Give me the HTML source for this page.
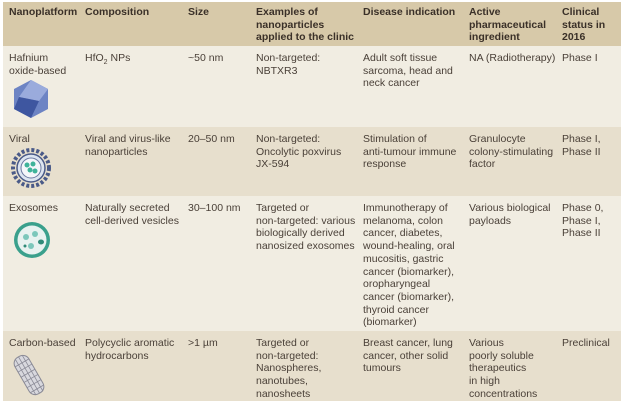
<!DOCTYPE html>
<html><head><meta charset="utf-8"><style>
body{margin:0;width:623px;height:401px;background:#fff;position:relative;overflow:hidden;font-family:"Liberation Sans",sans-serif;font-size:10.5px;color:#4a4038;}
.r{position:absolute;left:3px;width:618px;}
.t{position:absolute;line-height:12.7px;white-space:nowrap;}
.h{font-weight:bold;color:#3a3028;}
</style></head><body>
<div class="r" style="top:2px;height:44px;background:#d7c9a9"></div>
<div class="r" style="top:46px;height:81px;background:#f1ede2"></div>
<div class="r" style="top:127px;height:69px;background:#e7dfcd"></div>
<div class="r" style="top:196px;height:135px;background:#f1ede2"></div>
<div class="r" style="top:331px;height:70px;background:#e7dfcd"></div>

<div class="t h" style="left:9px;top:6px">Nanoplatform</div>
<div class="t h" style="left:85px;top:6px">Composition</div>
<div class="t h" style="left:188px;top:6px">Size</div>
<div class="t h" style="left:256px;top:6px">Examples of<br>nanoparticles<br>applied to the clinic</div>
<div class="t h" style="left:363px;top:6px">Disease indication</div>
<div class="t h" style="left:469px;top:6px">Active<br>pharmaceutical<br>ingredient</div>
<div class="t h" style="left:562px;top:6px">Clinical<br>status in<br>2016</div>

<div class="t" style="left:9px;top:52px">Hafnium<br>oxide-based</div>
<div class="t" style="left:85px;top:52px">HfO<sub style="font-size:7px">2</sub> NPs</div>
<div class="t" style="left:188px;top:52px">~50 nm</div>
<div class="t" style="left:256px;top:52px">Non-targeted:<br>NBTXR3</div>
<div class="t" style="left:363px;top:52px">Adult soft tissue<br>sarcoma, head and<br>neck cancer</div>
<div class="t" style="left:469px;top:52px">NA (Radiotherapy)</div>
<div class="t" style="left:562px;top:52px">Phase I</div>
<svg style="position:absolute;left:11px;top:79px" width="40" height="40" viewBox="0 0 40 40"><polygon points="20,1 37,10 37,30 20,39 3,30 3,10" fill="#6d84c4"/><polygon points="20,1 37,10 28,22 8,18" fill="#9aabdc"/><polygon points="3,30 20,39 28,22 8,18" fill="#3e56a0"/></svg>

<div class="t" style="left:9px;top:133px">Viral</div>
<div class="t" style="left:85px;top:133px">Viral and virus-like<br>nanoparticles</div>
<div class="t" style="left:188px;top:133px">20–50 nm</div>
<div class="t" style="left:256px;top:133px">Non-targeted:<br>Oncolytic poxvirus<br>JX-594</div>
<div class="t" style="left:363px;top:133px">Stimulation of<br>anti-tumour immune<br>response</div>
<div class="t" style="left:469px;top:133px">Granulocyte<br>colony-stimulating<br>factor</div>
<div class="t" style="left:562px;top:133px">Phase I,<br>Phase II</div>
<svg style="position:absolute;left:10px;top:147px" width="42" height="42" viewBox="0 0 42 42"><circle cx="21" cy="21" r="18" fill="none" stroke="#4a5a88" stroke-width="4" stroke-dasharray="3 2"/><circle cx="21" cy="21" r="14" fill="#dce4f0" stroke="#4a5a88" stroke-width="1.5"/><circle cx="21" cy="21" r="10" fill="#f4f6fa" stroke="#6a78a0"/><circle cx="17" cy="18" r="2.5" fill="#3fb39a"/><circle cx="23" cy="17" r="2.5" fill="#3fb39a"/><circle cx="20" cy="23" r="2.5" fill="#3fb39a"/><circle cx="25" cy="24" r="2.5" fill="#3fb39a"/></svg>

<div class="t" style="left:9px;top:202px">Exosomes</div>
<div class="t" style="left:85px;top:202px">Naturally secreted<br>cell-derived vesicles</div>
<div class="t" style="left:188px;top:202px">30–100 nm</div>
<div class="t" style="left:256px;top:202px">Targeted or<br>non-targeted: various<br>biologically derived<br>nanosized exosomes</div>
<div class="t" style="left:363px;top:202px">Immunotherapy of<br>melanoma, colon<br>cancer, diabetes,<br>wound-healing, oral<br>mucositis, gastric<br>cancer (biomarker),<br>oropharyngeal<br>cancer (biomarker),<br>thyroid cancer<br>(biomarker)</div>
<div class="t" style="left:469px;top:202px">Various biological<br>payloads</div>
<div class="t" style="left:562px;top:202px">Phase 0,<br>Phase I,<br>Phase II</div>
<svg style="position:absolute;left:12px;top:220px" width="40" height="40" viewBox="0 0 40 40"><circle cx="20" cy="20" r="18" fill="#3aa08c"/><circle cx="20" cy="20" r="14.5" fill="#e8f2f0"/><circle cx="14" cy="17" r="3" fill="#7cc7bb"/><circle cx="23" cy="14" r="3" fill="#7cc7bb"/><circle cx="19" cy="26" r="3" fill="#7cc7bb"/><ellipse cx="29" cy="22" rx="3" ry="2.5" fill="#2f8a78"/><circle cx="13" cy="26" r="1.5" fill="#2f8a78"/></svg>

<div class="t" style="left:9px;top:337px">Carbon-based</div>
<div class="t" style="left:85px;top:337px">Polycyclic aromatic<br>hydrocarbons</div>
<div class="t" style="left:188px;top:337px">&gt;1 µm</div>
<div class="t" style="left:256px;top:337px">Targeted or<br>non-targeted:<br>Nanospheres,<br>nanotubes,<br>nanosheets</div>
<div class="t" style="left:363px;top:337px">Breast cancer, lung<br>cancer, other solid<br>tumours</div>
<div class="t" style="left:469px;top:337px">Various<br>poorly soluble<br>therapeutics<br>in high<br>concentrations</div>
<div class="t" style="left:562px;top:337px">Preclinical</div>
<svg style="position:absolute;left:12px;top:352px" width="34" height="46" viewBox="0 0 34 46"><g transform="rotate(-30 17 23)"><rect x="9" y="2" width="16" height="42" rx="7" fill="#d8d8de" stroke="#8a8a96" stroke-width="1"/><path d="M9 9H25M9 15H25M9 21H25M9 27H25M9 33H25M9 39H25M13 3V44M17 2V44M21 3V44" stroke="#8a8a96" stroke-width="0.8"/></g></svg>
</body></html>
